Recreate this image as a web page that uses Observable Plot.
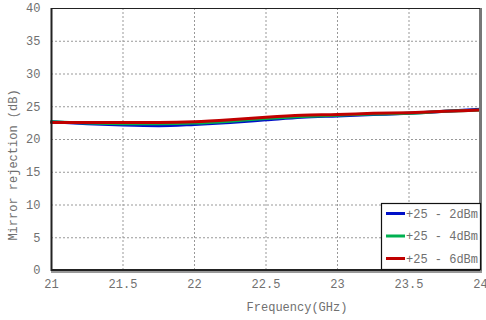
<!DOCTYPE html>
<html>
<head>
<meta charset="utf-8">
<script src="https://cdn.jsdelivr.net/npm/d3@7"></script>
<script src="https://cdn.jsdelivr.net/npm/@observablehq/plot@0.6"></script>
<style>
  html, body { margin: 0; padding: 0; background: #fff; }
  #chart svg { display: block; }
</style>
</head>
<body>
<div id="chart"></div>
<script>
// Frequency sweep (GHz)
const freq = [21, 21.25, 21.5, 21.75, 22, 22.25, 22.5, 22.75, 23, 23.25, 23.5, 23.75, 24];
// Mirror rejection (dB) per LO drive level
const rej2dBm = [22.7, 22.4, 22.2, 22.1, 22.3, 22.6, 23.0, 23.4, 23.6, 23.8, 24.0, 24.3, 24.6];
const rej4dBm = [22.7, 22.5, 22.4, 22.4, 22.5, 22.8, 23.2, 23.5, 23.7, 23.9, 24.0, 24.3, 24.5];
const rej6dBm = [22.6, 22.6, 22.6, 22.6, 22.7, 23.0, 23.4, 23.7, 23.8, 24.0, 24.1, 24.3, 24.5];
const seriesNames = ["+25 - 2dBm", "+25 - 4dBm", "+25 - 6dBm"];
const seriesColors = ["#0010c8", "#00b050", "#c00000"];
const xTicks = [21, 21.5, 22, 22.5, 23, 23.5, 24];
const yTicks = [0, 5, 10, 15, 20, 25, 30, 35, 40];

const rows = [rej2dBm, rej4dBm, rej6dBm].flatMap((vals, i) =>
  vals.map((v, j) => ({freq: freq[j], rej: v, series: seriesNames[i]})));

const font = "'Liberation Mono', 'DejaVu Sans Mono', monospace";
const txt = "#707070";
const W = 486, H = 320;
const mL = 51, mR = 6, mT = 8, mB = 50;

const chart = Plot.plot({
  width: W, height: H,
  marginLeft: mL, marginRight: mR, marginTop: mT, marginBottom: mB,
  style: {fontFamily: font, fontSize: "12px", color: txt, background: "#fff", overflow: "visible"},
  x: {domain: [21, 24]},
  y: {domain: [0, 40]},
  color: {domain: seriesNames, range: seriesColors},
  marks: [
    Plot.gridX(xTicks.slice(1, -1), {stroke: "#999", strokeOpacity: 1, strokeDasharray: "2,2", strokeWidth: 1}),
    Plot.gridY(yTicks.slice(1, -1), {stroke: "#999", strokeOpacity: 1, strokeDasharray: "2,2", strokeWidth: 1}),
    Plot.axisX(xTicks, {tickSize: 0, tickPadding: 9, label: null, fill: txt, fontSize: 12, tickFormat: d => String(d)}),
    Plot.axisY(yTicks, {tickSize: 0, tickPadding: 11, label: null, fill: txt, fontSize: 12, tickFormat: d => String(d)}),
    Plot.lineY(rows, {x: "freq", y: "rej", stroke: "series", strokeWidth: 3, curve: "monotone-x"})
  ]
});

document.getElementById("chart").appendChild(chart);

// Frame, shadow, axis titles and legend drawn over the plot area
const svg = d3.select(chart);
const x0 = mL, x1 = W - mR, y0 = mT, y1 = H - mB;
const g = svg.append("g").attr("text-anchor", "start");
g.append("rect").attr("x", x1 - 1).attr("y", y0).attr("width", 3).attr("height", y1 - y0 + 3).attr("fill", "#777");
g.append("rect").attr("x", x0).attr("y", y1 + 1).attr("width", x1 - x0 + 2).attr("height", 2).attr("fill", "#999");
g.append("line").attr("x1", x0).attr("x2", x1).attr("y1", y0 + 0.5).attr("y2", y0 + 0.5).attr("stroke", "#222");
g.append("line").attr("x1", x0 + 0.5).attr("x2", x0 + 0.5).attr("y1", y0).attr("y2", y1 + 1).attr("stroke", "#222").attr("stroke-width", 2);
g.append("line").attr("x1", x0).attr("x2", x1).attr("y1", y1).attr("y2", y1).attr("stroke", "#222").attr("stroke-width", 2);

g.append("text").attr("x", 297).attr("y", y1 + 41).attr("text-anchor", "middle")
  .attr("font-family", font).attr("font-size", 12).attr("fill", txt).text("Frequency(GHz)");
g.append("text").attr("transform", `translate(17,165) rotate(-90)`).attr("text-anchor", "middle")
  .attr("font-family", font).attr("font-size", 12).attr("fill", txt).text("Mirror rejection (dB)");

const lg = g.append("g").attr("transform", "translate(381,203)");
lg.append("rect").attr("x", 0.5).attr("y", 0.5).attr("width", 99).attr("height", 66)
  .attr("fill", "#fff").attr("stroke", "#111").attr("stroke-width", 1.2);
seriesNames.forEach((name, i) => {
  const yy = 10.5 + i * 22.5;
  lg.append("line").attr("x1", 5).attr("x2", 24).attr("y1", yy).attr("y2", yy)
    .attr("stroke", seriesColors[i]).attr("stroke-width", 3);
  lg.append("text").attr("x", 25).attr("y", yy).attr("dy", "0.35em").attr("text-anchor", "start")
    .attr("font-family", font).attr("font-size", 12).attr("fill", txt)
    .style("white-space", "pre").text(name);
});
</script>
</body>
</html>
